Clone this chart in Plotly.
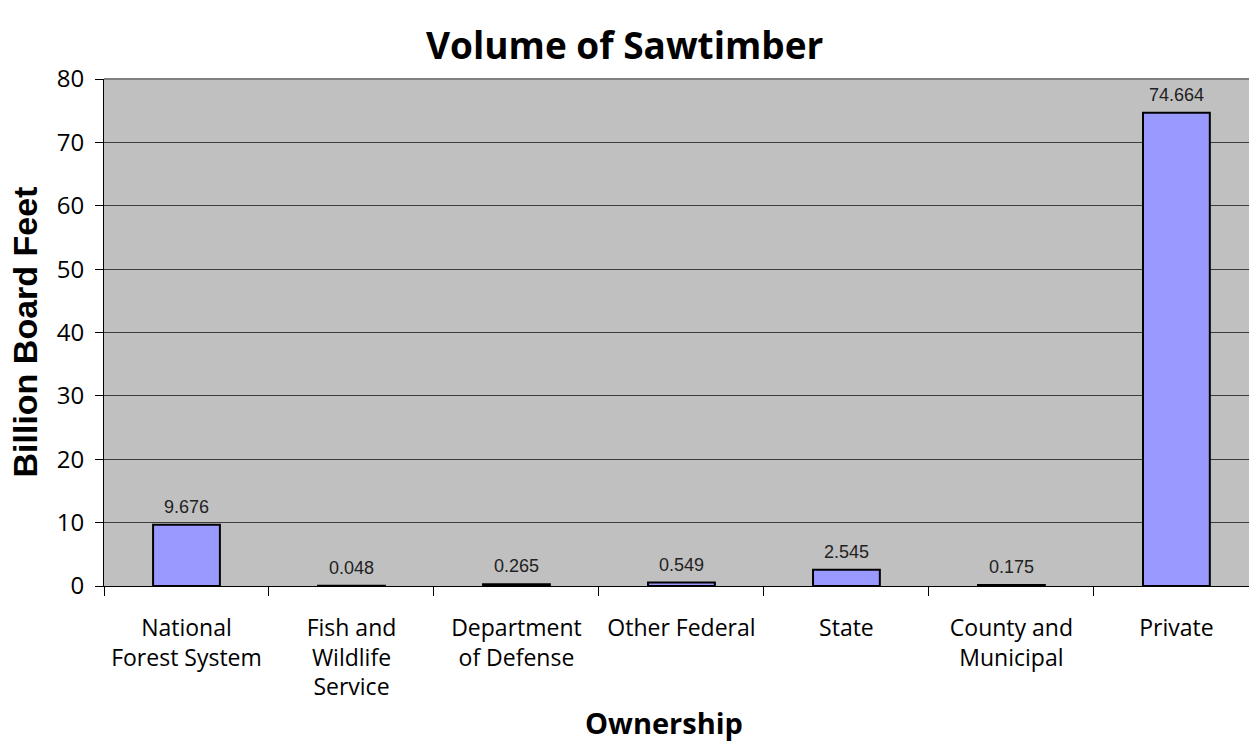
import plotly.graph_objects as go

# Sawtimber volume by ownership class (billion board feet)
owners = [
    "National<br>Forest System",
    "Fish and<br>Wildlife<br>Service",
    "Department<br>of Defense",
    "Other Federal",
    "State",
    "County and<br>Municipal",
    "Private",
]
volume = [9.676, 0.048, 0.265, 0.549, 2.545, 0.175, 74.664]
y_ticks = [0, 10, 20, 30, 40, 50, 60, 70, 80]

SANS = "Open Sans, Liberation Sans, Arial, sans-serif"
ARIAL = "Liberation Sans, Arial, sans-serif"

fig = go.Figure(
    go.Bar(
        x=owners,
        y=volume,
        width=0.405,
        marker=dict(color="#9999FF", line=dict(color="#000000", width=2)),
        hoverinfo="x+y",
    )
)

# value labels sitting above each bar
for name, v in zip(owners, volume):
    fig.add_annotation(
        x=name, y=v, text=f"{v:.3f}", showarrow=False,
        xanchor="center", yanchor="bottom", yshift=6,
        font=dict(family=ARIAL, size=18, color="#222222"),
    )

fig.update_layout(
    width=1249,
    height=742,
    margin=dict(l=104, r=0, t=79, b=156),
    paper_bgcolor="#FFFFFF",
    plot_bgcolor="#C0C0C0",
    showlegend=False,
    xaxis=dict(
        type="category",
        range=[-0.5, 6.44],
        tickson="boundaries",
        ticks="outside",
        ticklen=9,
        tickcolor="#000000",
        tickwidth=1,
        tickangle=0,
        showline=True,
        linecolor="#000000",
        linewidth=1,
        showgrid=False,
        ticklabelstandoff=21,
        tickfont=dict(family=SANS, size=23, color="#000000"),
    ),
    yaxis=dict(
        range=[0, 80],
        tickvals=y_ticks,
        ticks="outside",
        ticklen=8,
        tickcolor="#000000",
        showline=True,
        linecolor="#000000",
        linewidth=1,
        showgrid=True,
        gridcolor="#3c3c3c",
        gridwidth=1,
        zeroline=False,
        ticklabelstandoff=6,
        tickfont=dict(family=SANS, size=24, color="#000000"),
    ),
    shapes=[
        dict(type="line", xref="paper", yref="paper", x0=0, x1=1, y0=1, y1=1,
             line=dict(color="#808080", width=2)),
    ],
)

# chart and axis titles
fig.add_annotation(
    text="<b>Volume of Sawtimber</b>", xref="paper", yref="paper",
    x=(625 - 104) / 1145, y=1 + (79 - 44) / 507, xanchor="center", yanchor="middle",
    showarrow=False, font=dict(family=SANS, size=37, color="#000000"),
)
fig.add_annotation(
    text="<b>Ownership</b>", xref="paper", yref="paper",
    x=(664 - 104) / 1145, y=-(722 - 586) / 507, xanchor="center", yanchor="middle",
    showarrow=False, font=dict(family=SANS, size=29, color="#000000"),
)
fig.add_annotation(
    text="<b>Billion Board Feet</b>", xref="paper", yref="paper",
    x=-(104 - 24) / 1145, y=0.5, xanchor="center", yanchor="middle", textangle=-90,
    showarrow=False, font=dict(family=ARIAL, size=34, color="#000000"),
)

fig.write_html("out.html")
